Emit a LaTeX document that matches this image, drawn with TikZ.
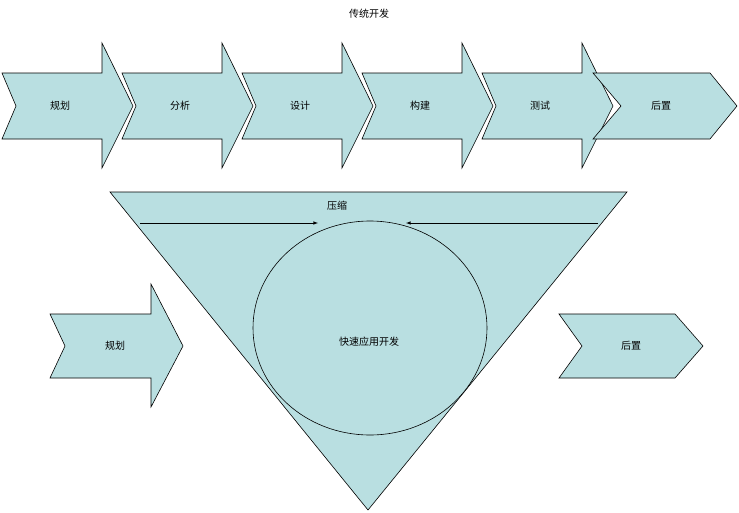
\documentclass[tikz,border=0pt]{standalone}
\usepackage{fontspec}
\setmainfont{Noto Sans CJK SC}
\begin{document}
\begin{tikzpicture}[x=1pt,y=-1pt,
  shp/.style={draw=black,fill=teal!10!cyan!5!gray!5!white,line width=0.6pt},
  lbl/.style={font=\fontsize{10}{12}\selectfont,inner sep=0pt}]
\colorlet{fillc}{white}
\definecolor{fillc}{HTML}{B9DFE1}
\tikzset{shp/.style={draw=black,fill=fillc,line width=0.6pt}}
\useasboundingbox (0,0) rectangle (739,512);
\node[lbl] (title) at (369,14) {传统开发};
\foreach \x/\t [count=\i] in {2/规划,122/分析,242/设计,362/构建,482/测试}{
  \draw[shp] (\x,73) -- (\x+100,73) -- (\x+100,43) -- (\x+131,106) -- (\x+100,168) -- (\x+100,139) -- (\x,139) -- (\x+14,106) -- cycle;
  \node[lbl] (t\i) at (\x+58,106) {\t};
}
\draw[shp] (593,73) -- (710,73) -- (737,106) -- (710,139) -- (593,139) -- (621,106) -- cycle;
\node[lbl] (t6) at (661,106) {后置};
\draw[shp] (110,192) -- (627,192) -- (368,510) -- cycle;
\draw[shp] (370,328) ellipse [x radius=117, y radius=107];
\node[lbl] (core) at (369,342) {快速应用开发};
\node[lbl] (press) at (337,206) {压缩};
\coordinate (l1) at (140,223); \coordinate (l2) at (318,223);
\coordinate (r1) at (598,223); \coordinate (r2) at (406,223);
\draw[-latex,line width=0.6pt] (l1) -- (l2);
\draw[-latex,line width=0.6pt] (r1) -- (r2);
\draw[shp] (50,314) -- (151,314) -- (151,284) -- (183,346) -- (151,407) -- (151,378) -- (50,378) -- (65,346) -- cycle;
\node[lbl] (b1) at (115,346) {规划};
\draw[shp] (559,314) -- (675,314) -- (703,346) -- (675,378) -- (559,378) -- (582,346) -- cycle;
\node[lbl] (b2) at (631,346) {后置};
\end{tikzpicture}
\end{document}
